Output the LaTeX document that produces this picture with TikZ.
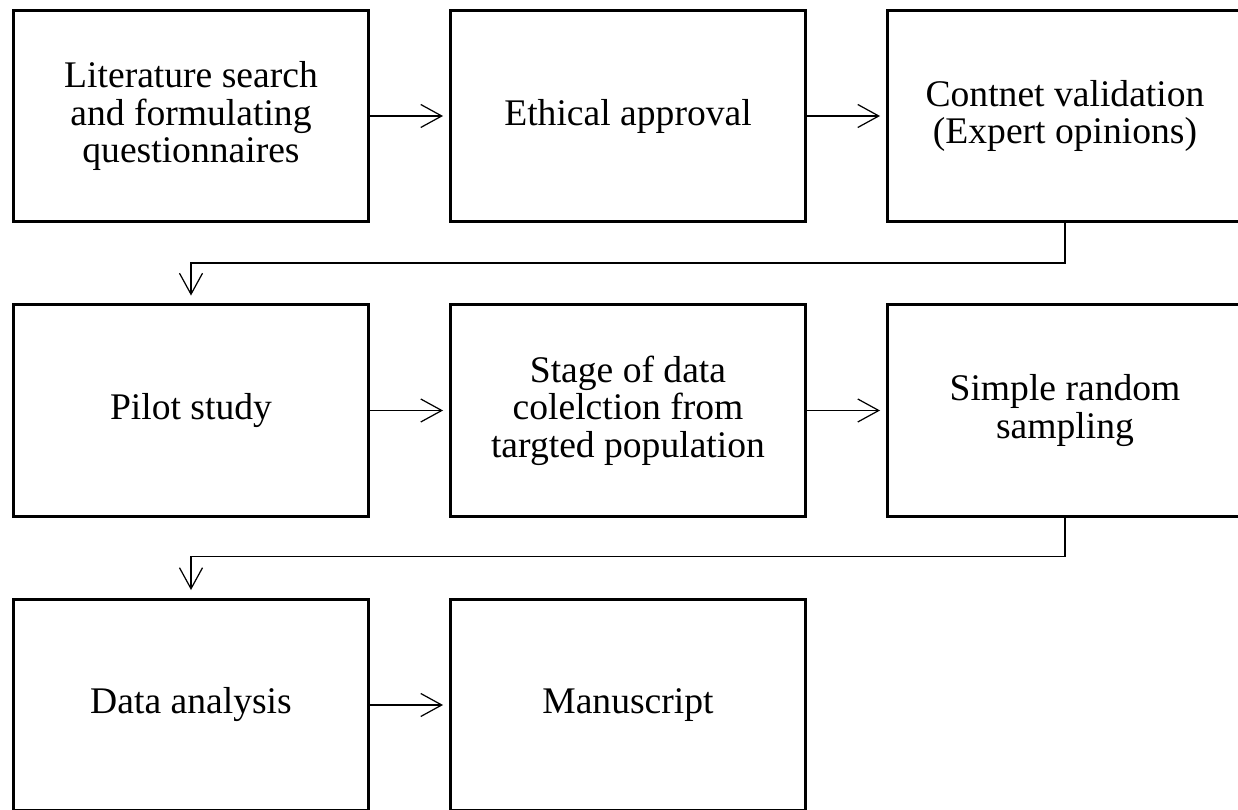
\documentclass[tikz,border=0pt]{standalone}
\usepackage{fontspec}
\setmainfont{Liberation Serif}
\usetikzlibrary{arrows.meta}

\begin{document}
\begin{tikzpicture}[
        x=0.02cm, y=-0.02cm,
        stage/.style={rectangle,draw,line width=1.7pt,inner sep=0pt,outer sep=0pt,
            minimum width=7.12cm,minimum height=4.24cm,align=center,
            font=\fontsize{21.4}{21.4}\selectfont},
        flow/.style={line width=0.7pt,-{Straight Barb[length=0.42cm,width=0.46cm,line width=0.7pt]}}
    ]

    \useasboundingbox (0,0) rectangle (1238,810);
    \clip (0,0) rectangle (1238,810);

    % first row
    \node[stage] (lit) at (191,116) {Literature search\\and formulating\\questionnaires};
    \node[stage] (eth) at (628,116) {Ethical approval};
    \node[stage] (val) at (1065,116) {Contnet validation\\(Expert opinions)};

    % second row
    \node[stage] (pilot) at (191,410.5) {Pilot study};
    \node[stage] (coll) at (628,410.5) {Stage of data\\colelction from\\targted population};
    \node[stage] (samp) at (1065,410.5) {Simple random\\sampling};

    % third row
    \node[stage] (anal) at (191,705) {Data analysis};
    \node[stage] (manu) at (628,705) {Manuscript};

    \draw[flow,shorten >=0.14cm] (lit) -- (eth);
    \draw[flow,shorten >=0.14cm] (eth) -- (val);
    \draw[flow,shorten >=0.18cm] (val.south) -- ++(0,41) -| (pilot.north);
    \draw[flow,shorten >=0.14cm] (pilot) -- (coll);
    \draw[flow,shorten >=0.14cm] (coll) -- (samp);
    \draw[flow,shorten >=0.18cm] (samp.south) -- ++(0,40) -| (anal.north);
    \draw[flow,shorten >=0.14cm] (anal) -- (manu);

    \end{tikzpicture}
\end{document}
